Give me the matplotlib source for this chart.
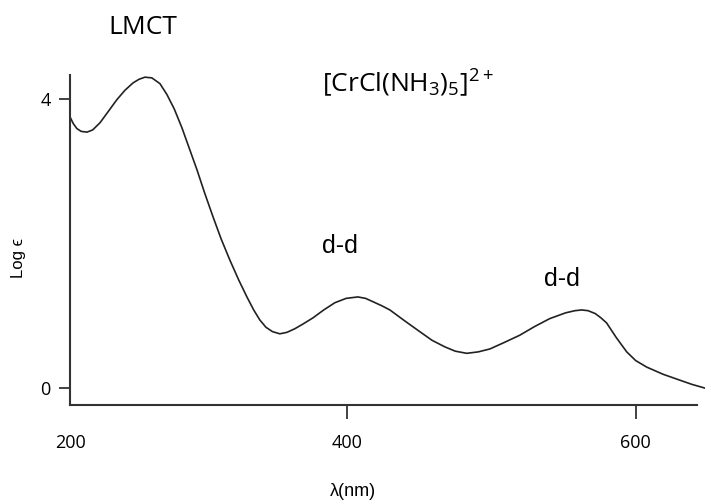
#!/usr/bin/env python3
"""
Absorption spectrum of [CrCl(NH3)5]2+ - Log epsilon vs wavelength
"""

import matplotlib
matplotlib.use("Agg")
import matplotlib.pyplot as plt

# Curve (wavelength nm, log epsilon)
wavelength = [208.3, 210.5, 213.0, 216.0, 220.1, 224.0, 229.1, 234.6, 240.8,
              246.4, 251.9, 256.0, 260.2, 265.0, 270.6, 275.4, 280.5, 285.8,
              291.0, 296.2, 301.5, 307.3, 313.0, 319.0, 325.0, 330.8, 335.5,
              339.8, 344.0, 348.5, 353.6, 358.5, 364.0, 370.0, 376.5, 384.0,
              391.7, 399.5, 407.6, 413.0, 418.5, 424.0, 429.8, 440.0, 450.5,
              459.0, 467.8, 475.0, 483.0, 491.0, 499.0, 509.0, 519.7, 530.0,
              540.5, 551.5, 558.0, 562.6, 567.0, 572.0, 576.0, 579.9, 586.5,
              593.8, 600.0, 607.6, 619.0, 630.4, 639.0, 647.8]
log_eps = [3.75, 3.66, 3.59, 3.55, 3.54, 3.57, 3.67, 3.82, 3.99,
           4.12, 4.22, 4.27, 4.30, 4.29, 4.21, 4.06, 3.86, 3.60,
           3.31, 3.02, 2.70, 2.37, 2.06, 1.77, 1.50, 1.26, 1.08,
           0.94, 0.84, 0.78, 0.75, 0.77, 0.82, 0.89, 0.97, 1.08,
           1.18, 1.24, 1.26, 1.24, 1.19, 1.14, 1.08, 0.93, 0.78,
           0.66, 0.57, 0.51, 0.48, 0.50, 0.54, 0.63, 0.73, 0.85,
           0.96, 1.04, 1.07, 1.08, 1.07, 1.03, 0.97, 0.90, 0.70,
           0.50, 0.38, 0.29, 0.19, 0.11, 0.05, 0.00]

xtick_pos = [208.3, 400, 600]
xtick_labels = ["200", "400", "600"]
ytick_pos = [0, 4]
ytick_labels = ["0", "4"]

FONT_A = ["Open Sans", "DejaVu Sans"]
FONT_B = ["Liberation Sans", "DejaVu Sans"]


def create_spectrum():
    fig = plt.figure(figsize=(7.05, 5.01), dpi=100)
    ax = fig.add_axes([0.0993, 0.1916, 0.8894, 0.6587])

    ax.plot(wavelength, log_eps, color="#222222", lw=1.2, clip_on=False,
            solid_joinstyle="round")

    ax.set_xlim(208.3, 642.5)
    ax.set_ylim(-0.235, 4.33)

    for side in ["top", "right"]:
        ax.spines[side].set_visible(False)
    for side in ["left", "bottom"]:
        ax.spines[side].set_linewidth(1.5)
        ax.spines[side].set_color("#333333")

    ax.set_xticks(xtick_pos)
    ax.set_xticklabels(xtick_labels, family=FONT_A, fontsize=13)
    ax.set_yticks(ytick_pos)
    ax.set_yticklabels(ytick_labels, family=FONT_A, fontsize=13)
    ax.tick_params(axis="x", direction="out", length=10, width=1.3,
                   color="#333333", pad=11)
    ax.tick_params(axis="y", direction="out", length=8, width=1.3,
                   color="#333333", pad=6)
    ax.xaxis.get_major_ticks()[0].tick1line.set_visible(False)

    # axis labels placed as figure text
    fig.text(353 / 705, 1 - 492 / 501, "λ(nm)", family=FONT_B, fontsize=13,
             ha="center", va="center")
    fig.text(18 / 705, 1 - 258 / 501, "Log ϵ", family=FONT_B, fontsize=12,
             ha="center", va="center", rotation=90)

    # band annotations
    fig.text(143 / 705, 1 - 27 / 501, "LMCT", family=FONT_A, fontsize=19,
             ha="center", va="center")
    fig.text(322 / 705, 1 - 92 / 501, r"[CrCl(NH$_3$)$_5$]$^{2+}$",
             family=FONT_A, fontsize=19, ha="left", va="baseline")
    fig.text(340 / 705, 1 - 246 / 501, "d-d", family=FONT_B, fontsize=18,
             ha="center", va="center")
    fig.text(562 / 705, 1 - 279 / 501, "d-d", family=FONT_B, fontsize=18,
             ha="center", va="center")

    return fig


def main():
    plt.rcParams["mathtext.fontset"] = "custom"
    plt.rcParams["mathtext.rm"] = "Open Sans"
    plt.rcParams["mathtext.it"] = "Open Sans"
    plt.rcParams["mathtext.default"] = "regular"
    fig = create_spectrum()
    fig.savefig("out.png", dpi=100)
    plt.close(fig)


if __name__ == "__main__":
    main()
